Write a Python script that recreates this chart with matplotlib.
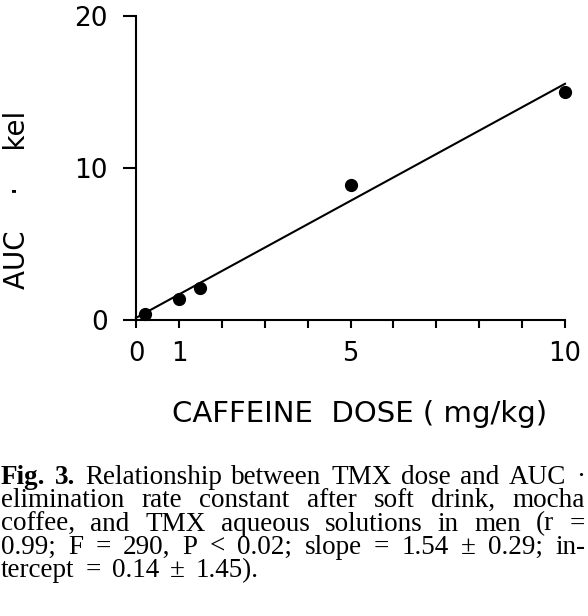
import numpy as np
import matplotlib
matplotlib.use('Agg')
import matplotlib.pyplot as plt

# values
dose = [0.2, 1.0, 1.5, 5.0, 10.0]
auc_kel = [0.4, 1.4, 2.1, 8.9, 15.0]
slope = 1.54
intercept = 0.14
x_major = [0, 1, 5, 10]
x_minor = [2, 3, 4, 6, 7, 8, 9]
y_major = [0, 10, 20]

caption = [
    [("Fig.", "bold"), ("3.", "bold"), ("Relationship", "normal"), ("between", "normal"),
     ("TMX", "normal"), ("dose", "normal"), ("and", "normal"), ("AUC", "normal"), ("·", "normal")],
    "elimination rate constant after soft drink, mocha",
    "coffee, and TMX aqueous solutions in men (r =",
    "0.99; F = 290, P < 0.02; slope = 1.54 ± 0.29; in-",
    "tercept = 0.14 ± 1.45).",
]

W, H = 588, 616
fig = plt.figure(figsize=(W / 100, H / 100), dpi=100)
ax = fig.add_axes([136 / W, 1 - 320 / H, 429 / W, 304 / H])

xf = np.array([0.0, 10.0])
ax.plot(xf, intercept + slope * xf, color='black', lw=1.5, clip_on=False)
ax.plot(dose, auc_kel, 'o', color='black', ms=8.5, clip_on=False)

ax.set_xlim(0, 10)
ax.set_ylim(0, 20)
ax.spines['top'].set_visible(False)
ax.spines['right'].set_visible(False)
for s in ['left', 'bottom']:
    ax.spines[s].set_linewidth(1.5)

ax.set_xticks(x_major)
ax.set_xticks(x_minor, minor=True)
ax.set_yticks(y_major)
ax.tick_params(axis='x', which='both', direction='out', length=6, width=1.5, pad=9, labelsize=18.5)
ax.tick_params(axis='y', which='major', direction='out', length=9.5, width=1.5, pad=11, labelsize=19)

ax.set_xlabel("CAFFEINE  DOSE ( mg/kg)", fontsize=21)
ax.xaxis.label.set_va('baseline')
ax.xaxis.set_label_coords((360 - 136) / 429, (320 - 422) / 304)
ax.set_ylabel("AUC    ·    kel", fontsize=20)
ax.yaxis.label.set_va('center')
ax.yaxis.set_label_coords((17 - 136) / 429, (320 - 200) / 304)

# justified caption, placed word by word
fig.canvas.draw()
r = fig.canvas.get_renderer()
x0, x1 = 1, 585
base = 484
step = 23.3
for i, line in enumerate(caption):
    if isinstance(line, str):
        words = [(w, "normal") for w in line.split(" ")]
    else:
        words = line
    y = 1 - (base + i * step) / H
    texts = [fig.text(0, y, w, fontsize=19.5, family='Liberation Serif', weight=wt, va='baseline')
             for w, wt in words]
    widths = [t.get_window_extent(r).width for t in texts]
    if i < len(caption) - 1:
        gap = (x1 - x0 - sum(widths)) / (len(words) - 1)
    else:
        gap = 11
    x = x0
    for t, w in zip(texts, widths):
        t.set_x(x / W)
        x += w + gap

fig.savefig('out.png', dpi=100)
